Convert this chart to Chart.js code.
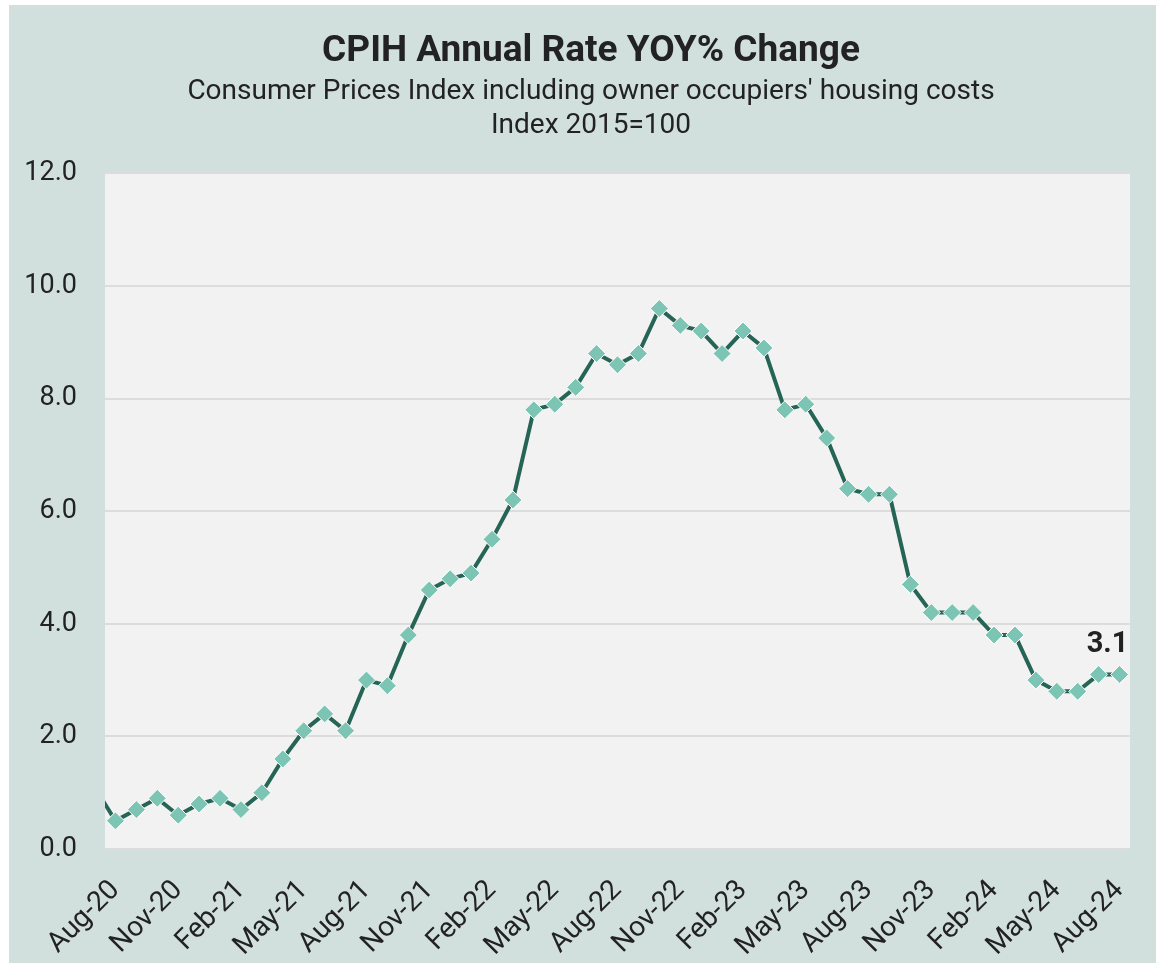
<!DOCTYPE html>
<html>
<head>
<meta charset="utf-8">
<title>CPIH Annual Rate YOY% Change</title>
<script src="https://cdn.jsdelivr.net/npm/chart.js@4.4.0/dist/chart.umd.min.js"></script>
<style>
    html, body { margin: 0; padding: 0; background: #ffffff; }
    #wrap {
        position: absolute;
        left: 9px;
        top: 5px;
        width: 1147px;
        height: 958px;
        background: #d2e0dd;
    }
</style>
</head>
<body>
<div id="wrap"><canvas id="chart" width="1147" height="958"></canvas></div>
<script>
// months (Jul-20 sits just off the left edge, the line runs in from it)
var months = [
    'Jul-20', 'Aug-20', 'Sep-20', 'Oct-20', 'Nov-20', 'Dec-20',
    'Jan-21', 'Feb-21', 'Mar-21', 'Apr-21', 'May-21', 'Jun-21', 'Jul-21', 'Aug-21', 'Sep-21', 'Oct-21', 'Nov-21', 'Dec-21',
    'Jan-22', 'Feb-22', 'Mar-22', 'Apr-22', 'May-22', 'Jun-22', 'Jul-22', 'Aug-22', 'Sep-22', 'Oct-22', 'Nov-22', 'Dec-22',
    'Jan-23', 'Feb-23', 'Mar-23', 'Apr-23', 'May-23', 'Jun-23', 'Jul-23', 'Aug-23', 'Sep-23', 'Oct-23', 'Nov-23', 'Dec-23',
    'Jan-24', 'Feb-24', 'Mar-24', 'Apr-24', 'May-24', 'Jun-24', 'Jul-24', 'Aug-24'
];

// CPIH annual rate, %
var cpihRate = [
    1.1, 0.5, 0.7, 0.9, 0.6, 0.8,
    0.9, 0.7, 1.0, 1.6, 2.1, 2.4, 2.1, 3.0, 2.9, 3.8, 4.6, 4.8,
    4.9, 5.5, 6.2, 7.8, 7.9, 8.2, 8.8, 8.6, 8.8, 9.6, 9.3, 9.2,
    8.8, 9.2, 8.9, 7.8, 7.9, 7.3, 6.4, 6.3, 6.3, 4.7, 4.2, 4.2,
    4.2, 3.8, 3.8, 3.0, 2.8, 2.8, 3.1, 3.1
];

var firstMonth = 'Aug-20';
var lastMonth = 'Aug-24';
var yTicks = [0, 2, 4, 6, 8, 10, 12];

var titleText = 'CPIH Annual Rate YOY% Change';
var subtitleLines = ["Consumer Prices Index including owner occupiers' housing costs", 'Index 2015=100'];

var FONT = 'Roboto, "Noto Sans", sans-serif';
var TEXT = '#222222';

// grey plot background behind the gridlines
var plotBg = {
    id: 'plotBg',
    beforeDraw: function (chart) {
        var a = chart.chartArea;
        var ctx = chart.ctx;
        ctx.save();
        ctx.fillStyle = '#f2f2f2';
        ctx.fillRect(a.left, a.top, a.right - a.left, a.bottom - a.top);
        ctx.restore();
    }
};

// value label above the latest point
var lastLabel = {
    id: 'lastLabel',
    afterDatasetsDraw: function (chart) {
        var meta = chart.getDatasetMeta(0);
        var pt = meta.data[meta.data.length - 1];
        var ctx = chart.ctx;
        ctx.save();
        ctx.font = 'bold 29px ' + FONT;
        ctx.fillStyle = TEXT;
        ctx.textAlign = 'center';
        ctx.textBaseline = 'middle';
        ctx.fillText(cpihRate[cpihRate.length - 1].toFixed(1), pt.x - 12, pt.y - 30);
        ctx.restore();
    }
};

var ctx = document.getElementById('chart').getContext('2d');
var chart = new Chart(ctx, {
    type: 'line',
    data: {
        labels: months,
        datasets: [{
            label: 'CPIH',
            data: cpihRate,
            borderColor: '#266556',
            borderWidth: 4,
            tension: 0,
            pointStyle: 'rectRot',
            pointRadius: 9,
            pointBackgroundColor: '#7cc4b3',
            pointBorderColor: '#ffffff',
            pointBorderWidth: 1
        }]
    },
    options: {
        responsive: false,
        animation: false,
        layout: { padding: { left: 17, right: 0, top: 0, bottom: 0 } },
        plugins: {
            legend: { display: false },
            tooltip: { enabled: false },
            title: {
                display: true,
                text: titleText,
                color: TEXT,
                font: { family: FONT, size: 37, weight: 'bold', lineHeight: 1.2 },
                padding: { top: 25, bottom: 1 }
            },
            subtitle: {
                display: true,
                text: subtitleLines,
                color: TEXT,
                font: { family: FONT, size: 28, lineHeight: 1.214 },
                padding: { top: 0, bottom: 30 }
            }
        },
        scales: {
            x: {
                type: 'category',
                min: firstMonth,
                max: lastMonth,
                offset: true,
                grid: { display: false, drawTicks: false },
                border: { display: false },
                ticks: {
                    autoSkip: false,
                    minRotation: 45,
                    maxRotation: 45,
                    padding: 25,
                    color: TEXT,
                    font: { family: FONT, size: 28 },
                    callback: function (value) {
                        return (value - 1) % 3 === 0 ? months[value] : null;
                    }
                },
                afterFit: function (scale) {
                    scale.height = 114;
                    scale.paddingLeft = 0;
                    scale.paddingRight = 26;
                }
            },
            y: {
                min: 0,
                max: 12,
                afterBuildTicks: function (scale) {
                    scale.ticks = yTicks.map(function (v) { return { value: v }; });
                },
                grid: { color: '#dcdcdc', lineWidth: 2, drawTicks: false },
                border: { display: false },
                ticks: {
                    padding: 28,
                    color: TEXT,
                    font: { family: FONT, size: 27 },
                    callback: function (v) { return v.toFixed(1); }
                },
                afterFit: function (scale) { scale.width = 79; }
            }
        }
    },
    plugins: [plotBg, lastLabel]
});
</script>
</body>
</html>
